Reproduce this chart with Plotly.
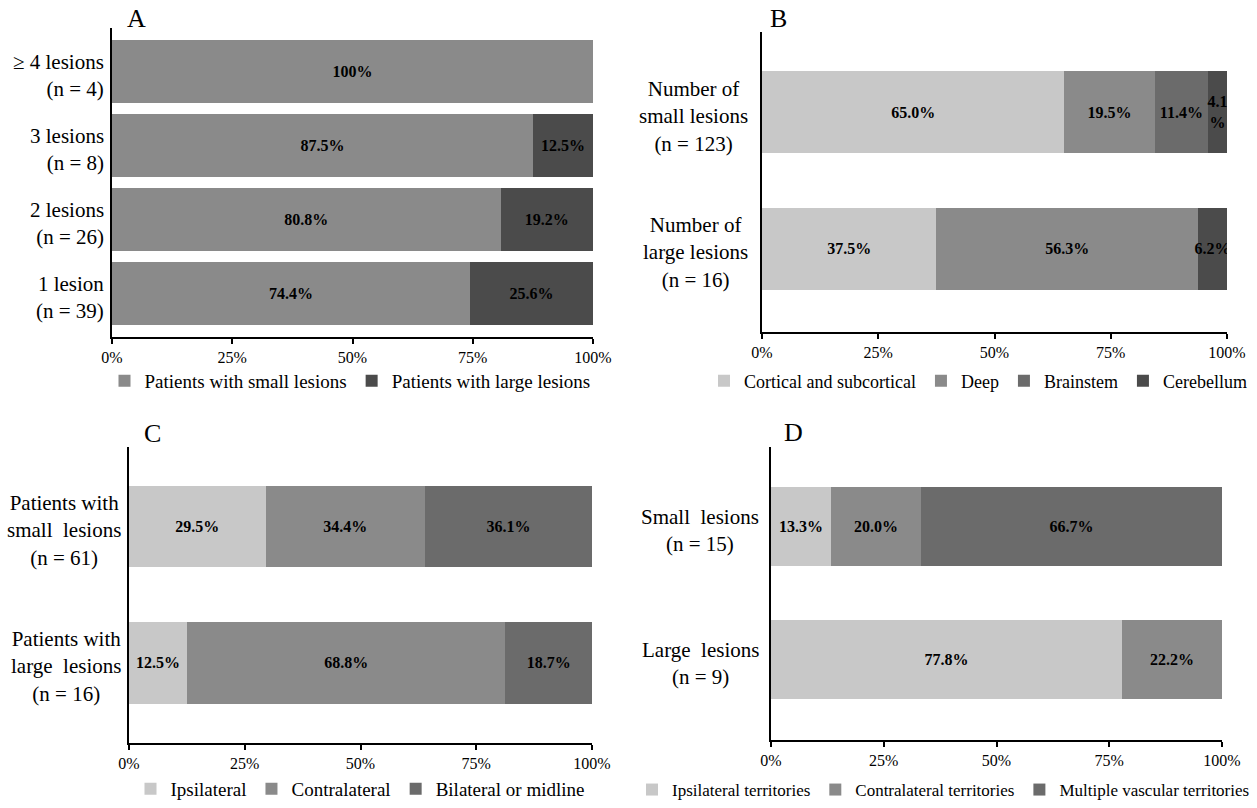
import plotly.graph_objects as go

# ---------------- data ----------------
# Panel A: number of lesions per patient
a_cats = ["\u2265 4 lesions<br>(n = 4)", "3 lesions<br>(n = 8)", "2 lesions<br>(n = 26)", "1 lesion<br>(n = 39)"]
a_series = ["Patients with small lesions", "Patients with large lesions"]
a_small = [100, 87.5, 80.8, 74.4]
a_large = [0, 12.5, 19.2, 25.6]

# Panel B: lesion location
b_cats = ["Number of<br>small lesions<br>(n = 123)", "Number of<br>large lesions<br>(n = 16)"]
b_series = ["Cortical and subcortical", "Deep", "Brainstem", "Cerebellum"]
b_cortical = [65.0, 37.5]
b_deep = [19.5, 56.3]
b_brainstem = [11.4, 0]
b_cerebellum = [4.1, 6.2]

# Panel C: side relative to the culprit vessel
c_cats = ["Patients with<br>small \u00a0lesions<br>(n = 61)", "Patients with<br>large \u00a0lesions<br>(n = 16)"]
c_series = ["Ipsilateral", "Contralateral", "Bilateral or midline"]
c_ipsi = [29.5, 12.5]
c_contra = [34.4, 68.8]
c_bilat = [36.1, 18.7]

# Panel D: vascular territory
d_cats = ["Small \u00a0lesions<br>(n = 15)", "Large \u00a0lesions<br>(n = 9)"]
d_series = ["Ipsilateral territories", "Contralateral territories", "Multiple vascular territories"]
d_ipsi = [13.3, 77.8]
d_contra = [20.0, 22.2]
d_multi = [66.7, 0]

x_ticks = [0, 25, 50, 75, 100]

# ---------------- styling ----------------
FONT = "Liberation Serif"
G_LIGHT = "#c8c8c8"
G_MID = "#8a8a8a"
G_DARK = "#6b6b6b"
G_DARKEST = "#4b4b4b"


def fmt(v, narrow=6):
    if v == 0:
        return ""
    if v == 100:
        return "100%"
    s = f"{v:.1f}"
    return s + "<br>%" if v < narrow else s + "%"


fig = go.Figure()


def add_series(cats, vals, name, color, xa, ya, legend, width):
    fig.add_trace(go.Bar(
        y=cats, x=vals, name=name, orientation="h",
        marker=dict(color=color, line=dict(width=0)),
        width=[width] * len(cats),
        text=[fmt(v) for v in vals],
        textposition="inside", insidetextanchor="middle", textangle=0,
        textfont=dict(family=FONT, size=16, color="black", weight="bold"),
        insidetextfont=dict(family=FONT, size=16, color="black", weight="bold"),
        xaxis=xa, yaxis=ya, legend=legend, hoverinfo="skip",
    ))


add_series(a_cats, a_small, a_series[0], G_MID, "x", "y", "legend", 0.851)
add_series(a_cats, a_large, a_series[1], G_DARKEST, "x", "y", "legend", 0.851)

for vals, name, col in zip([b_cortical, b_deep, b_brainstem, b_cerebellum], b_series,
                           [G_LIGHT, G_MID, G_DARK, G_DARKEST]):
    add_series(b_cats, vals, name, col, "x2", "y2", "legend2", 0.60)

for vals, name, col in zip([c_ipsi, c_contra, c_bilat], c_series, [G_LIGHT, G_MID, G_DARK]):
    add_series(c_cats, vals, name, col, "x3", "y3", "legend3", 0.597)

for vals, name, col in zip([d_ipsi, d_contra, d_multi], d_series, [G_LIGHT, G_MID, G_DARK]):
    add_series(d_cats, vals, name, col, "x4", "y4", "legend4", 0.594)


def xaxis(domain, anchor):
    return dict(
        domain=domain, anchor=anchor, range=[0, 100], automargin=False,
        tickvals=x_ticks, ticktext=[f"{t}%" for t in x_ticks],
        showline=True, linecolor="black", linewidth=2,
        ticks="outside", ticklen=5, tickwidth=1.5, tickcolor="black",
        showgrid=False, zeroline=False,
        tickfont=dict(family=FONT, size=16, color="black"), fixedrange=True,
    )


def yaxis(domain, anchor, cats, rng):
    return dict(
        domain=domain, anchor=anchor, type="category", categoryarray=cats,
        range=rng, automargin=False, showline=True, linecolor="black", linewidth=2,
        showticklabels=False, ticks="", showgrid=False, zeroline=False, fixedrange=True,
    )


W, H = 1257, 808
fig.update_layout(
    width=W, height=H, margin=dict(l=0, r=0, t=0, b=0, autoexpand=False),
    paper_bgcolor="white", plot_bgcolor="white",
    barmode="stack", showlegend=True,
    uniformtext=dict(minsize=16, mode="show"),
    font=dict(family=FONT, color="black"),
    xaxis=xaxis([112 / W, 593 / W], "y"),
    yaxis=yaxis([1 - 337 / H, 1 - 28 / H], "x", a_cats, [3.588, -0.588]),
    xaxis2=xaxis([762 / W, 1227 / W], "y2"),
    yaxis2=yaxis([1 - 332 / H, 1 - 32 / H], "x2", b_cats, [1.606, -0.584]),
    xaxis3=xaxis([129 / W, 592 / W], "y3"),
    yaxis3=yaxis([1 - 743 / H, 1 - 447 / H], "x3", c_cats, [1.586, -0.582]),
    xaxis4=xaxis([771 / W, 1222 / W], "y4"),
    yaxis4=yaxis([1 - 740 / H, 1 - 447 / H], "x4", d_cats, [1.605, -0.598]),
)


def legend_style(size, **pos):
    return dict(orientation="h", traceorder="normal", bgcolor="rgba(0,0,0,0)",
                font=dict(family=FONT, size=size, color="black"),
                itemclick=False, itemdoubleclick=False, **pos)


fig.update_layout(
    legend=legend_style(19, x=350 / W, y=1 - 381 / H, xanchor="center", yanchor="middle"),
    legend2=legend_style(18, x=1252 / W, y=1 - 381 / H, xanchor="right", yanchor="middle"),
    legend3=legend_style(19, x=360 / W, y=0, xanchor="center", yanchor="bottom"),
    legend4=legend_style(17, x=1255 / W, y=0, xanchor="right", yanchor="bottom"),
)

# panel letters
for letter, px, py in [("A", 136, 18), ("B", 778, 18), ("C", 152, 433), ("D", 793, 432)]:
    fig.add_annotation(text=letter, x=px / W, y=1 - py / H, xref="paper", yref="paper",
                       xanchor="center", yanchor="middle", showarrow=False,
                       font=dict(family=FONT, size=26, color="black"))

# category labels beside each bar
for cats, ax, gap, align in [(a_cats, "", 6, "right"), (b_cats, "2", 12, "center"),
                             (c_cats, "3", 6, "center"), (d_cats, "4", 10, "center")]:
    for c in cats:
        fig.add_annotation(text=c, x=0, y=c, xref=f"x{ax} domain", yref=f"y{ax}",
                           xanchor="right", yanchor="middle", xshift=-gap, yshift=-4,
                           align=align, showarrow=False,
                           font=dict(family=FONT, size=21, color="black"))

fig.write_html("out.html", config={"displayModeBar": False})
